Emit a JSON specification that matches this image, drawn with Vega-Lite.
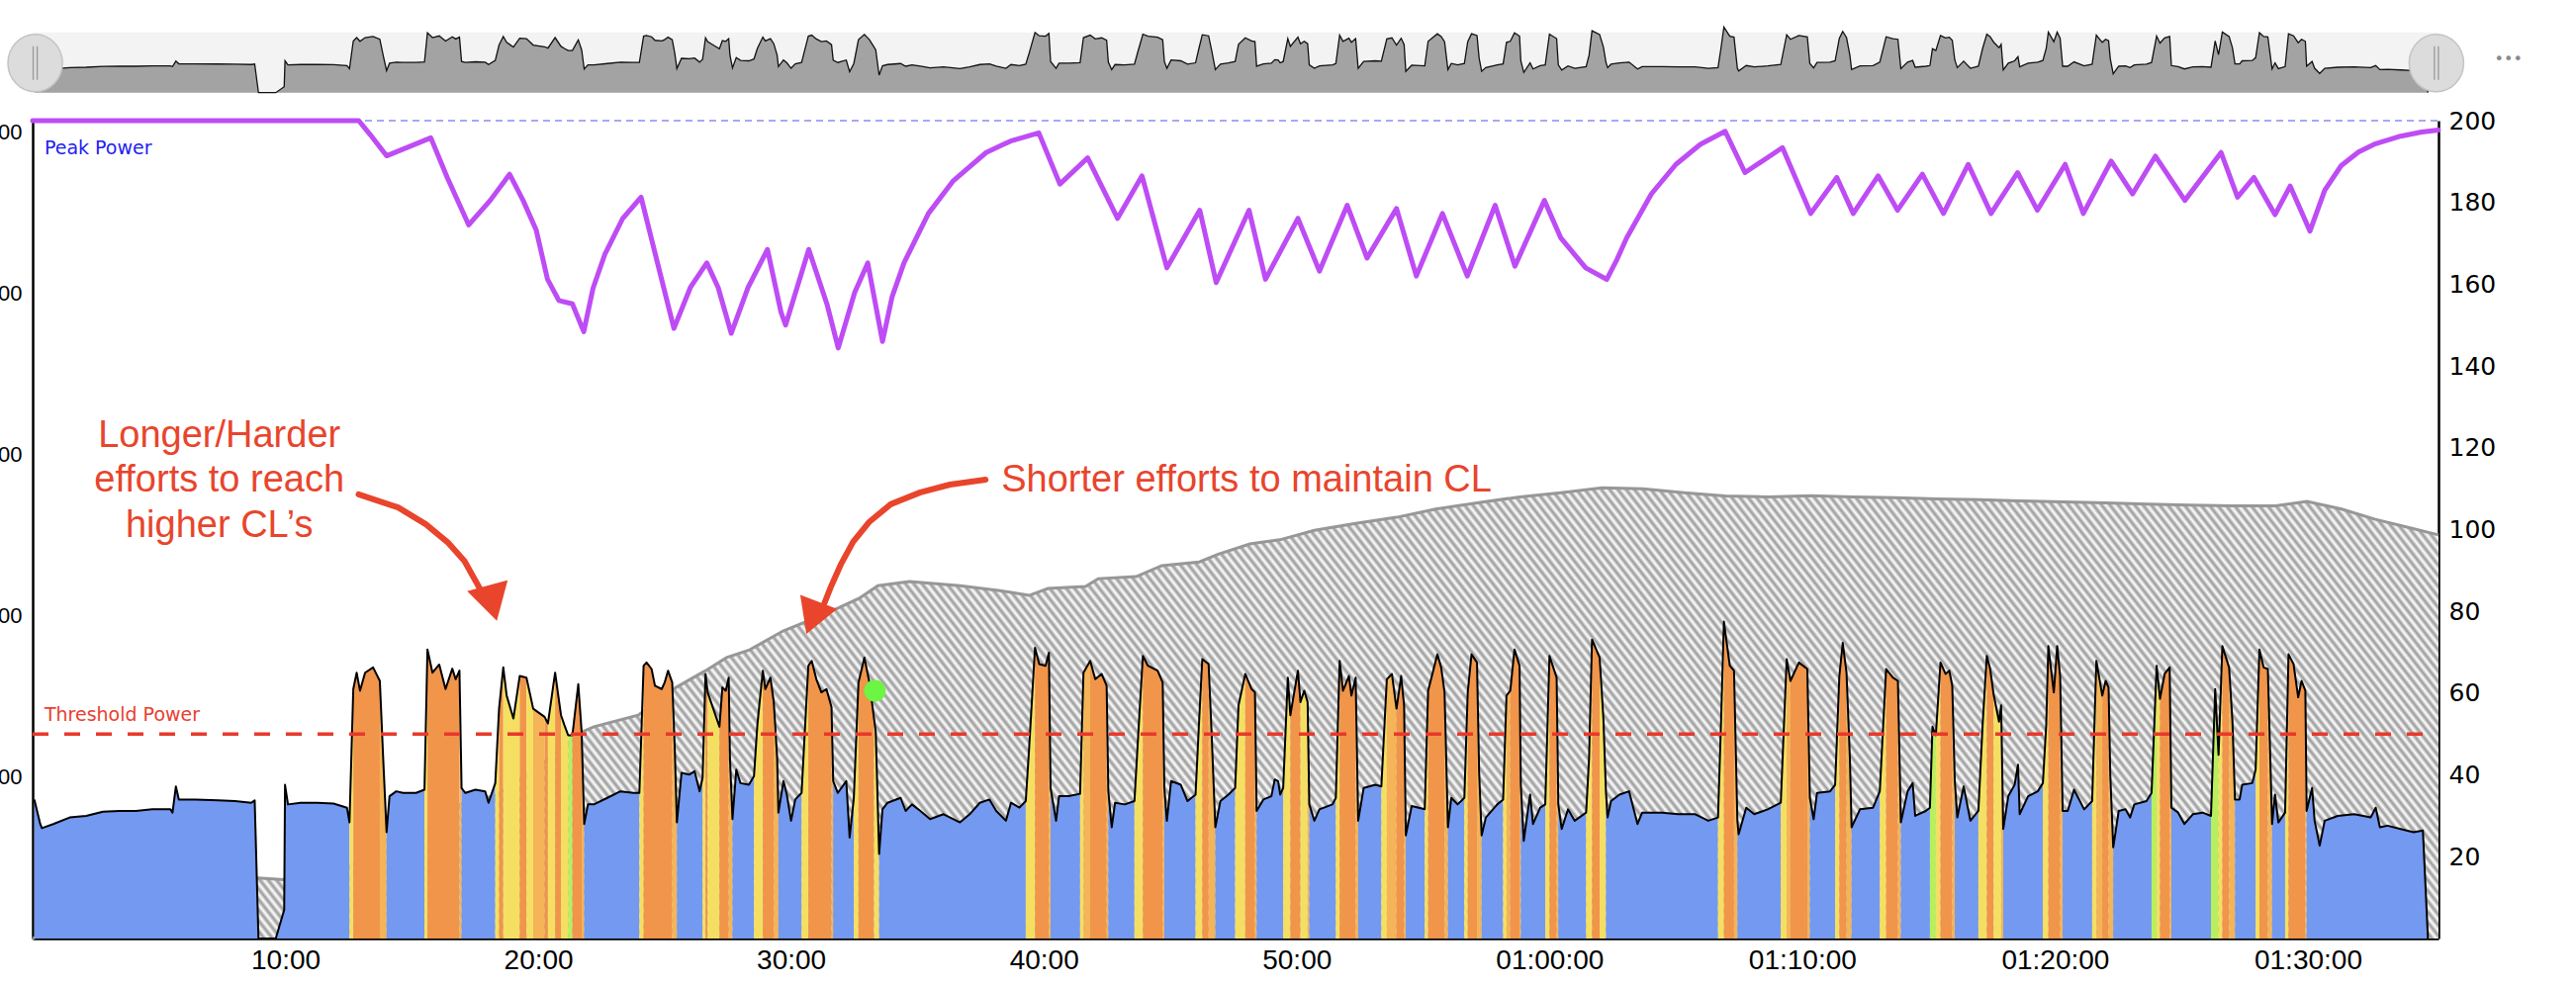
{
"$schema":"https://vega.github.io/schema/vega-lite/v6.json",
"width":2432,"height":827,
"autosize":{"type":"none"},
"padding":{"left":33,"top":122,"right":139,"bottom":47},
"background":"white",
"config":{"view":{"stroke":null}},
"datasets":{
"pw":[
{"t":4,"v":34,"s":0,"c":"b"},{"t":18,"v":28,"s":0,"c":"b"},{"t":22,"v":27,"s":0,"c":"b"},{"t":49,"v":28,"s":0,"c":"b"},{"t":88,"v":29.6,"s":0,"c":"b"},{"t":127,"v":30,"s":0,"c":"b"},{"t":167,"v":31,"s":0,"c":"b"},{"t":206,"v":31.2,"s":0,"c":"b"},{"t":245,"v":31.2,"s":0,"c":"b"},{"t":284,"v":31.6,"s":0,"c":"b"},{"t":327,"v":31.6,"s":0,"c":"b"},{"t":332,"v":30.8,"s":0,"c":"b"},{"t":340,"v":37.2,"s":0,"c":"b"},{"t":347,"v":34,"s":0,"c":"b"},{"t":386,"v":34,"s":0,"c":"b"},{"t":440,"v":33.8,"s":0,"c":"b"},{"t":480,"v":33.6,"s":0,"c":"b"},{"t":519,"v":33.2,"s":0,"c":"b"},{"t":527,"v":33.8,"s":0,"c":"b"},{"t":536,"v":0,"s":0,"c":"b"},{"t":577,"v":0,"s":0,"c":"b"},{"t":597,"v":7,"s":0,"c":"b"},{"t":599,"v":37.6,"s":0,"c":"b"},{"t":606,"v":32.8,"s":0,"c":"b"},{"t":636,"v":33.2,"s":0,"c":"b"},{"t":675,"v":33.2,"s":0,"c":"b"},{"t":714,"v":33,"s":0,"c":"b"},{"t":746,"v":32,"s":0,"c":"b"},{"t":752,"v":28.4,"s":0,"c":"b"},
{"t":752,"v":28.4,"s":1,"c":"y"},{"t":761,"v":61,"s":1,"c":"y"},
{"t":761,"v":61,"s":2,"c":"o"},{"t":769,"v":65,"s":2,"c":"o"},{"t":777,"v":60.6,"s":2,"c":"o"},{"t":789,"v":65,"s":2,"c":"o"},{"t":808,"v":66.3,"s":2,"c":"o"},{"t":824,"v":63,"s":2,"c":"o"},
{"t":824,"v":63,"s":3,"c":"lo"},{"t":832,"v":44,"s":3,"c":"lo"},{"t":840,"v":26,"s":3,"c":"lo"},
{"t":840,"v":26,"s":4,"c":"b"},{"t":847,"v":34.8,"s":4,"c":"b"},{"t":863,"v":36,"s":4,"c":"b"},{"t":879,"v":35.6,"s":4,"c":"b"},{"t":910,"v":35.6,"s":4,"c":"b"},{"t":930,"v":36.4,"s":4,"c":"b"},
{"t":930,"v":36.4,"s":5,"c":"y"},{"t":937,"v":70.7,"s":5,"c":"y"},
{"t":937,"v":70.7,"s":6,"c":"o"},{"t":949,"v":65,"s":6,"c":"o"},{"t":965,"v":67,"s":6,"c":"o"},{"t":980,"v":61,"s":6,"c":"o"},{"t":996,"v":66,"s":6,"c":"o"},{"t":1004,"v":63.4,"s":6,"c":"o"},{"t":1013,"v":65.5,"s":6,"c":"o"},
{"t":1013,"v":65.5,"s":7,"c":"lo"},{"t":1018,"v":36.8,"s":7,"c":"lo"},
{"t":1018,"v":36.8,"s":8,"c":"b"},{"t":1027,"v":35.6,"s":8,"c":"b"},{"t":1051,"v":36.4,"s":8,"c":"b"},{"t":1074,"v":36,"s":8,"c":"b"},{"t":1082,"v":33.2,"s":8,"c":"b"},{"t":1098,"v":38,"s":8,"c":"b"},
{"t":1098,"v":38,"s":9,"c":"y"},{"t":1107,"v":56.2,"s":9,"c":"y"},
{"t":1107,"v":56.2,"s":10,"c":"o"},{"t":1117,"v":66.3,"s":10,"c":"o"},
{"t":1117,"v":66.3,"s":11,"c":"y"},{"t":1125,"v":59.4,"s":11,"c":"y"},{"t":1141,"v":53.8,"s":11,"c":"y"},{"t":1156,"v":64.2,"s":11,"c":"y"},
{"t":1156,"v":64.2,"s":12,"c":"o"},{"t":1172,"v":63.8,"s":12,"c":"o"},
{"t":1172,"v":63.8,"s":13,"c":"y"},{"t":1188,"v":56.2,"s":13,"c":"y"},
{"t":1188,"v":56.2,"s":14,"c":"lo"},{"t":1215,"v":54.2,"s":14,"c":"lo"},
{"t":1215,"v":54.2,"s":15,"c":"o"},{"t":1223,"v":52.6,"s":15,"c":"o"},
{"t":1223,"v":52.6,"s":16,"c":"y"},{"t":1240,"v":65,"s":16,"c":"y"},
{"t":1240,"v":65,"s":17,"c":"o"},{"t":1254,"v":54.6,"s":17,"c":"o"},
{"t":1254,"v":54.6,"s":18,"c":"y"},{"t":1262,"v":52.2,"s":18,"c":"y"},{"t":1271,"v":49.7,"s":18,"c":"y"},
{"t":1271,"v":49.7,"s":19,"c":"g"},{"t":1281,"v":49.7,"s":19,"c":"g"},
{"t":1281,"v":49.7,"s":20,"c":"o"},{"t":1295,"v":62.2,"s":20,"c":"o"},{"t":1303,"v":50.5,"s":20,"c":"o"},
{"t":1303,"v":50.5,"s":21,"c":"lo"},{"t":1309,"v":28,"s":21,"c":"lo"},
{"t":1309,"v":28,"s":22,"c":"b"},{"t":1318,"v":32.8,"s":22,"c":"b"},{"t":1332,"v":32.8,"s":22,"c":"b"},{"t":1364,"v":34.4,"s":22,"c":"b"},{"t":1395,"v":36,"s":22,"c":"b"},{"t":1426,"v":35.6,"s":22,"c":"b"},{"t":1440,"v":35.6,"s":22,"c":"b"},
{"t":1440,"v":35.6,"s":23,"c":"y"},{"t":1450,"v":66.7,"s":23,"c":"y"},
{"t":1450,"v":66.7,"s":24,"c":"o"},{"t":1457,"v":67.5,"s":24,"c":"o"},{"t":1469,"v":65.9,"s":24,"c":"o"},{"t":1477,"v":61.8,"s":24,"c":"o"},{"t":1493,"v":61,"s":24,"c":"o"},{"t":1500,"v":62.6,"s":24,"c":"o"},{"t":1508,"v":65.5,"s":24,"c":"o"},{"t":1518,"v":62.6,"s":24,"c":"o"},
{"t":1518,"v":62.6,"s":25,"c":"lo"},{"t":1524,"v":46.5,"s":25,"c":"lo"},{"t":1529,"v":28.4,"s":25,"c":"lo"},
{"t":1529,"v":28.4,"s":26,"c":"b"},{"t":1540,"v":40.5,"s":26,"c":"b"},{"t":1559,"v":40.1,"s":26,"c":"b"},{"t":1571,"v":40.9,"s":26,"c":"b"},{"t":1583,"v":36,"s":26,"c":"b"},{"t":1590,"v":39.3,"s":26,"c":"b"},
{"t":1590,"v":39.3,"s":27,"c":"y"},{"t":1597,"v":64.7,"s":27,"c":"y"},
{"t":1597,"v":64.7,"s":28,"c":"o"},{"t":1602,"v":60.2,"s":28,"c":"o"},
{"t":1602,"v":60.2,"s":29,"c":"y"},{"t":1618,"v":55.4,"s":29,"c":"y"},{"t":1630,"v":51.8,"s":29,"c":"y"},
{"t":1630,"v":51.8,"s":30,"c":"o"},{"t":1637,"v":61.4,"s":30,"c":"o"},{"t":1645,"v":60.6,"s":30,"c":"o"},{"t":1652,"v":63.8,"s":30,"c":"o"},
{"t":1652,"v":63.8,"s":31,"c":"lo"},{"t":1655,"v":44.1,"s":31,"c":"lo"},{"t":1661,"v":29.2,"s":31,"c":"lo"},
{"t":1661,"v":29.2,"s":32,"c":"b"},{"t":1670,"v":41.3,"s":32,"c":"b"},{"t":1680,"v":38,"s":32,"c":"b"},{"t":1700,"v":37.6,"s":32,"c":"b"},{"t":1712,"v":39.7,"s":32,"c":"b"},
{"t":1712,"v":39.7,"s":33,"c":"y"},{"t":1720,"v":52.2,"s":33,"c":"y"},{"t":1733,"v":65.5,"s":33,"c":"y"},
{"t":1733,"v":65.5,"s":34,"c":"o"},{"t":1739,"v":61,"s":34,"c":"o"},{"t":1751,"v":63.8,"s":34,"c":"o"},{"t":1759,"v":57.8,"s":34,"c":"o"},
{"t":1759,"v":57.8,"s":35,"c":"lo"},{"t":1767,"v":44.1,"s":35,"c":"lo"},{"t":1770,"v":30.8,"s":35,"c":"lo"},
{"t":1770,"v":30.8,"s":36,"c":"b"},{"t":1782,"v":38.5,"s":36,"c":"b"},{"t":1790,"v":35.2,"s":36,"c":"b"},{"t":1800,"v":28.8,"s":36,"c":"b"},{"t":1810,"v":34,"s":36,"c":"b"},{"t":1825,"v":35.6,"s":36,"c":"b"},
{"t":1825,"v":35.6,"s":37,"c":"y"},{"t":1837,"v":59,"s":37,"c":"y"},{"t":1841,"v":66.7,"s":37,"c":"y"},
{"t":1841,"v":66.7,"s":38,"c":"o"},{"t":1849,"v":67.9,"s":38,"c":"o"},{"t":1860,"v":63.4,"s":38,"c":"o"},{"t":1872,"v":60.2,"s":38,"c":"o"},{"t":1884,"v":61,"s":38,"c":"o"},{"t":1896,"v":56.6,"s":38,"c":"o"},
{"t":1896,"v":56.6,"s":39,"c":"lo"},{"t":1900,"v":38.5,"s":39,"c":"lo"},
{"t":1900,"v":38.5,"s":40,"c":"b"},{"t":1911,"v":35.6,"s":40,"c":"b"},{"t":1931,"v":38.5,"s":40,"c":"b"},{"t":1939,"v":24.7,"s":40,"c":"b"},{"t":1949,"v":34.4,"s":40,"c":"b"},
{"t":1949,"v":34.4,"s":41,"c":"y"},{"t":1960,"v":62.6,"s":41,"c":"y"},
{"t":1960,"v":62.6,"s":42,"c":"o"},{"t":1974,"v":68.7,"s":42,"c":"o"},{"t":1986,"v":62.6,"s":42,"c":"o"},{"t":1997,"v":53.8,"s":42,"c":"o"},
{"t":1997,"v":53.8,"s":43,"c":"y"},{"t":2001,"v":50.5,"s":43,"c":"y"},{"t":2009,"v":20.7,"s":43,"c":"y"},
{"t":2009,"v":20.7,"s":44,"c":"b"},{"t":2017,"v":31.6,"s":44,"c":"b"},{"t":2029,"v":33.2,"s":44,"c":"b"},{"t":2060,"v":34.4,"s":44,"c":"b"},{"t":2072,"v":31.2,"s":44,"c":"b"},{"t":2087,"v":32.8,"s":44,"c":"b"},{"t":2107,"v":31.2,"s":44,"c":"b"},{"t":2130,"v":29.2,"s":44,"c":"b"},{"t":2162,"v":30.4,"s":44,"c":"b"},{"t":2201,"v":28.4,"s":44,"c":"b"},{"t":2224,"v":30.4,"s":44,"c":"b"},{"t":2248,"v":33.2,"s":44,"c":"b"},{"t":2271,"v":34,"s":44,"c":"b"},{"t":2287,"v":31.2,"s":44,"c":"b"},{"t":2310,"v":28.8,"s":44,"c":"b"},{"t":2322,"v":33.2,"s":44,"c":"b"},{"t":2342,"v":32,"s":44,"c":"b"},{"t":2357,"v":33.6,"s":44,"c":"b"},
{"t":2357,"v":33.6,"s":45,"c":"y"},{"t":2365,"v":46.5,"s":45,"c":"y"},{"t":2379,"v":71.1,"s":45,"c":"y"},
{"t":2379,"v":71.1,"s":46,"c":"o"},{"t":2389,"v":67.1,"s":46,"c":"o"},{"t":2404,"v":66.7,"s":46,"c":"o"},{"t":2412,"v":69.9,"s":46,"c":"o"},
{"t":2412,"v":69.9,"s":47,"c":"lo"},{"t":2416,"v":36.8,"s":47,"c":"lo"},
{"t":2416,"v":36.8,"s":48,"c":"b"},{"t":2429,"v":28.8,"s":48,"c":"b"},{"t":2436,"v":34.8,"s":48,"c":"b"},{"t":2459,"v":34.8,"s":48,"c":"b"},{"t":2486,"v":35.4,"s":48,"c":"b"},
{"t":2486,"v":35.4,"s":49,"c":"y"},{"t":2494,"v":65,"s":49,"c":"y"},
{"t":2494,"v":65,"s":50,"c":"lo"},{"t":2510,"v":67.9,"s":50,"c":"lo"},
{"t":2510,"v":67.9,"s":51,"c":"o"},{"t":2522,"v":63.4,"s":51,"c":"o"},{"t":2537,"v":64.7,"s":51,"c":"o"},{"t":2549,"v":61.8,"s":51,"c":"o"},
{"t":2549,"v":61.8,"s":52,"c":"lo"},{"t":2553,"v":36,"s":52,"c":"lo"},
{"t":2553,"v":36,"s":53,"c":"b"},{"t":2561,"v":27.2,"s":53,"c":"b"},{"t":2569,"v":33.2,"s":53,"c":"b"},{"t":2592,"v":32.8,"s":53,"c":"b"},{"t":2615,"v":33.6,"s":53,"c":"b"},
{"t":2615,"v":33.6,"s":54,"c":"y"},{"t":2623,"v":48.1,"s":54,"c":"y"},{"t":2635,"v":69.1,"s":54,"c":"y"},
{"t":2635,"v":69.1,"s":55,"c":"o"},{"t":2647,"v":66.7,"s":55,"c":"o"},{"t":2670,"v":65.5,"s":55,"c":"o"},{"t":2682,"v":62.6,"s":55,"c":"o"},
{"t":2682,"v":62.6,"s":56,"c":"lo"},{"t":2686,"v":36.8,"s":56,"c":"lo"},
{"t":2686,"v":36.8,"s":57,"c":"b"},{"t":2692,"v":28.8,"s":57,"c":"b"},{"t":2702,"v":38.5,"s":57,"c":"b"},{"t":2725,"v":37.6,"s":57,"c":"b"},{"t":2741,"v":33.6,"s":57,"c":"b"},{"t":2760,"v":35.2,"s":57,"c":"b"},
{"t":2760,"v":35.2,"s":58,"c":"y"},{"t":2768,"v":52.2,"s":58,"c":"y"},{"t":2776,"v":68.3,"s":58,"c":"y"},
{"t":2776,"v":68.3,"s":59,"c":"o"},{"t":2791,"v":67.1,"s":59,"c":"o"},
{"t":2791,"v":67.1,"s":60,"c":"lo"},{"t":2798,"v":50.5,"s":60,"c":"lo"},{"t":2807,"v":27.2,"s":60,"c":"lo"},
{"t":2807,"v":27.2,"s":61,"c":"b"},{"t":2819,"v":33.6,"s":61,"c":"b"},{"t":2838,"v":35.2,"s":61,"c":"b"},{"t":2854,"v":36.8,"s":61,"c":"b"},
{"t":2854,"v":36.8,"s":62,"c":"y"},{"t":2862,"v":57,"s":62,"c":"y"},{"t":2878,"v":64.7,"s":62,"c":"y"},
{"t":2878,"v":64.7,"s":63,"c":"o"},{"t":2893,"v":61,"s":63,"c":"o"},{"t":2901,"v":60.2,"s":63,"c":"o"},
{"t":2901,"v":60.2,"s":64,"c":"lo"},{"t":2905,"v":31.2,"s":64,"c":"lo"},
{"t":2905,"v":31.2,"s":65,"c":"b"},{"t":2921,"v":34,"s":65,"c":"b"},{"t":2940,"v":34.8,"s":65,"c":"b"},{"t":2948,"v":38.9,"s":65,"c":"b"},{"t":2956,"v":38.5,"s":65,"c":"b"},{"t":2961,"v":35.2,"s":65,"c":"b"},{"t":2968,"v":36.8,"s":65,"c":"b"},
{"t":2968,"v":36.8,"s":66,"c":"y"},{"t":2979,"v":63.8,"s":66,"c":"y"},{"t":2985,"v":54.6,"s":66,"c":"y"},
{"t":2985,"v":54.6,"s":67,"c":"o"},{"t":3003,"v":65.5,"s":67,"c":"o"},{"t":3009,"v":57.8,"s":67,"c":"o"},
{"t":3009,"v":57.8,"s":68,"c":"y"},{"t":3018,"v":60.6,"s":68,"c":"y"},{"t":3026,"v":57.8,"s":68,"c":"y"},
{"t":3026,"v":57.8,"s":69,"c":"lo"},{"t":3030,"v":32.8,"s":69,"c":"lo"},
{"t":3030,"v":32.8,"s":70,"c":"b"},{"t":3042,"v":28.8,"s":70,"c":"b"},{"t":3054,"v":31.6,"s":70,"c":"b"},{"t":3085,"v":32.8,"s":70,"c":"b"},{"t":3093,"v":34.4,"s":70,"c":"b"},
{"t":3093,"v":34.4,"s":71,"c":"y"},{"t":3102,"v":67.9,"s":71,"c":"y"},
{"t":3102,"v":67.9,"s":72,"c":"o"},{"t":3110,"v":60.6,"s":72,"c":"o"},{"t":3124,"v":64.2,"s":72,"c":"o"},{"t":3130,"v":59.4,"s":72,"c":"o"},{"t":3140,"v":63.8,"s":72,"c":"o"},
{"t":3140,"v":63.8,"s":73,"c":"lo"},{"t":3146,"v":28.8,"s":73,"c":"lo"},
{"t":3146,"v":28.8,"s":74,"c":"b"},{"t":3159,"v":36.8,"s":74,"c":"b"},{"t":3187,"v":37.6,"s":74,"c":"b"},{"t":3201,"v":37.2,"s":74,"c":"b"},
{"t":3201,"v":37.2,"s":75,"c":"y"},{"t":3214,"v":63.4,"s":75,"c":"y"},
{"t":3214,"v":63.4,"s":76,"c":"lo"},{"t":3226,"v":64.7,"s":76,"c":"lo"},{"t":3237,"v":56.2,"s":76,"c":"lo"},
{"t":3237,"v":56.2,"s":77,"c":"o"},{"t":3248,"v":64.2,"s":77,"c":"o"},{"t":3255,"v":57,"s":77,"c":"o"},
{"t":3255,"v":57,"s":78,"c":"lo"},{"t":3259,"v":25.2,"s":78,"c":"lo"},
{"t":3259,"v":25.2,"s":79,"c":"b"},{"t":3273,"v":32.4,"s":79,"c":"b"},{"t":3304,"v":31.6,"s":79,"c":"b"},
{"t":3304,"v":31.6,"s":80,"c":"y"},{"t":3312,"v":60.6,"s":80,"c":"y"},
{"t":3312,"v":60.6,"s":81,"c":"o"},{"t":3334,"v":69.5,"s":81,"c":"o"},{"t":3343,"v":66.3,"s":81,"c":"o"},{"t":3351,"v":60.2,"s":81,"c":"o"},
{"t":3351,"v":60.2,"s":82,"c":"lo"},{"t":3359,"v":27.2,"s":82,"c":"lo"},
{"t":3359,"v":27.2,"s":83,"c":"b"},{"t":3367,"v":34.4,"s":83,"c":"b"},{"t":3382,"v":32.8,"s":83,"c":"b"},{"t":3398,"v":34.4,"s":83,"c":"b"},
{"t":3398,"v":34.4,"s":84,"c":"y"},{"t":3406,"v":60.2,"s":84,"c":"y"},
{"t":3406,"v":60.2,"s":85,"c":"o"},{"t":3415,"v":69.5,"s":85,"c":"o"},{"t":3428,"v":67.5,"s":85,"c":"o"},
{"t":3428,"v":67.5,"s":86,"c":"lo"},{"t":3433,"v":40.9,"s":86,"c":"lo"},{"t":3439,"v":25.2,"s":86,"c":"lo"},
{"t":3439,"v":25.2,"s":87,"c":"b"},{"t":3449,"v":29.6,"s":87,"c":"b"},{"t":3476,"v":32.8,"s":87,"c":"b"},{"t":3490,"v":34,"s":87,"c":"b"},
{"t":3490,"v":34,"s":88,"c":"y"},{"t":3498,"v":59.4,"s":88,"c":"y"},
{"t":3498,"v":59.4,"s":89,"c":"lo"},{"t":3507,"v":60.6,"s":89,"c":"lo"},
{"t":3507,"v":60.6,"s":90,"c":"o"},{"t":3517,"v":70.7,"s":90,"c":"o"},{"t":3529,"v":66.7,"s":90,"c":"o"},
{"t":3529,"v":66.7,"s":91,"c":"lo"},{"t":3532,"v":37.6,"s":91,"c":"lo"},
{"t":3532,"v":37.6,"s":92,"c":"b"},{"t":3539,"v":23.9,"s":92,"c":"b"},{"t":3554,"v":35.2,"s":92,"c":"b"},{"t":3561,"v":28,"s":92,"c":"b"},{"t":3578,"v":32,"s":92,"c":"b"},{"t":3590,"v":32.8,"s":92,"c":"b"},
{"t":3590,"v":32.8,"s":93,"c":"y"},{"t":3600,"v":69.1,"s":93,"c":"y"},
{"t":3600,"v":69.1,"s":94,"c":"o"},{"t":3617,"v":63.8,"s":94,"c":"o"},
{"t":3617,"v":63.8,"s":95,"c":"lo"},{"t":3621,"v":32.8,"s":95,"c":"lo"},
{"t":3621,"v":32.8,"s":96,"c":"b"},{"t":3629,"v":26.8,"s":96,"c":"b"},{"t":3644,"v":31.6,"s":96,"c":"b"},{"t":3660,"v":28.8,"s":96,"c":"b"},{"t":3687,"v":30.8,"s":96,"c":"b"},
{"t":3687,"v":30.8,"s":97,"c":"y"},{"t":3694,"v":44.1,"s":97,"c":"y"},{"t":3701,"v":73.1,"s":97,"c":"y"},
{"t":3701,"v":73.1,"s":98,"c":"o"},{"t":3719,"v":68.7,"s":98,"c":"o"},
{"t":3719,"v":68.7,"s":99,"c":"y"},{"t":3728,"v":53.8,"s":99,"c":"y"},{"t":3734,"v":36,"s":99,"c":"y"},
{"t":3734,"v":36,"s":100,"c":"b"},{"t":3738,"v":29.6,"s":100,"c":"b"},{"t":3746,"v":33.6,"s":100,"c":"b"},{"t":3766,"v":35.2,"s":100,"c":"b"},{"t":3789,"v":36,"s":100,"c":"b"},{"t":3809,"v":28,"s":100,"c":"b"},{"t":3820,"v":30.8,"s":100,"c":"b"},{"t":3867,"v":30.8,"s":100,"c":"b"},{"t":3906,"v":30.4,"s":100,"c":"b"},{"t":3946,"v":30.4,"s":100,"c":"b"},{"t":3977,"v":28.8,"s":100,"c":"b"},{"t":4000,"v":29.6,"s":100,"c":"b"},
{"t":4000,"v":29.6,"s":101,"c":"y"},{"t":4007,"v":52.2,"s":101,"c":"y"},{"t":4014,"v":77.5,"s":101,"c":"y"},
{"t":4014,"v":77.5,"s":102,"c":"o"},{"t":4028,"v":66.7,"s":102,"c":"o"},{"t":4038,"v":65.5,"s":102,"c":"o"},
{"t":4038,"v":65.5,"s":103,"c":"lo"},{"t":4046,"v":28.8,"s":103,"c":"lo"},
{"t":4046,"v":28.8,"s":104,"c":"b"},{"t":4049,"v":25.5,"s":104,"c":"b"},{"t":4067,"v":32,"s":104,"c":"b"},{"t":4086,"v":30.4,"s":104,"c":"b"},{"t":4118,"v":31.6,"s":104,"c":"b"},{"t":4149,"v":33.2,"s":104,"c":"b"},
{"t":4149,"v":33.2,"s":105,"c":"y"},{"t":4163,"v":68.3,"s":105,"c":"y"},
{"t":4163,"v":68.3,"s":106,"c":"lo"},{"t":4172,"v":63,"s":106,"c":"lo"},
{"t":4172,"v":63,"s":107,"c":"o"},{"t":4192,"v":67.5,"s":107,"c":"o"},{"t":4212,"v":65.9,"s":107,"c":"o"},
{"t":4212,"v":65.9,"s":108,"c":"lo"},{"t":4218,"v":34.4,"s":108,"c":"lo"},
{"t":4218,"v":34.4,"s":109,"c":"b"},{"t":4227,"v":29.2,"s":109,"c":"b"},{"t":4235,"v":35.6,"s":109,"c":"b"},{"t":4266,"v":36,"s":109,"c":"b"},{"t":4278,"v":37.6,"s":109,"c":"b"},
{"t":4278,"v":37.6,"s":110,"c":"y"},{"t":4288,"v":64.2,"s":110,"c":"y"},
{"t":4288,"v":64.2,"s":111,"c":"o"},{"t":4296,"v":72.3,"s":111,"c":"o"},{"t":4305,"v":65,"s":111,"c":"o"},
{"t":4305,"v":65,"s":112,"c":"lo"},{"t":4313,"v":44.1,"s":112,"c":"lo"},{"t":4317,"v":27.2,"s":112,"c":"lo"},
{"t":4317,"v":27.2,"s":113,"c":"b"},{"t":4337,"v":31.6,"s":113,"c":"b"},{"t":4368,"v":32,"s":113,"c":"b"},{"t":4384,"v":36,"s":113,"c":"b"},
{"t":4384,"v":36,"s":114,"c":"y"},{"t":4399,"v":65.9,"s":114,"c":"y"},
{"t":4399,"v":65.9,"s":115,"c":"o"},{"t":4415,"v":63.8,"s":115,"c":"o"},{"t":4427,"v":63,"s":115,"c":"o"},
{"t":4427,"v":63,"s":116,"c":"lo"},{"t":4434,"v":28.4,"s":116,"c":"lo"},
{"t":4434,"v":28.4,"s":117,"c":"b"},{"t":4450,"v":36,"s":117,"c":"b"},{"t":4462,"v":38,"s":117,"c":"b"},{"t":4468,"v":30,"s":117,"c":"b"},{"t":4493,"v":31.2,"s":117,"c":"b"},{"t":4503,"v":32,"s":117,"c":"b"},
{"t":4503,"v":32,"s":118,"c":"g"},{"t":4509,"v":51.8,"s":118,"c":"g"},{"t":4517,"v":49.7,"s":118,"c":"g"},
{"t":4517,"v":49.7,"s":119,"c":"y"},{"t":4528,"v":67.5,"s":119,"c":"y"},
{"t":4528,"v":67.5,"s":120,"c":"o"},{"t":4540,"v":64.7,"s":120,"c":"o"},{"t":4549,"v":65.5,"s":120,"c":"o"},{"t":4556,"v":61.8,"s":120,"c":"o"},
{"t":4556,"v":61.8,"s":121,"c":"lo"},{"t":4562,"v":38.5,"s":121,"c":"lo"},
{"t":4562,"v":38.5,"s":122,"c":"b"},{"t":4568,"v":29.6,"s":122,"c":"b"},{"t":4583,"v":37.2,"s":122,"c":"b"},{"t":4599,"v":28.8,"s":122,"c":"b"},{"t":4618,"v":31.2,"s":122,"c":"b"},
{"t":4618,"v":31.2,"s":123,"c":"y"},{"t":4628,"v":52.2,"s":123,"c":"y"},{"t":4638,"v":69.1,"s":123,"c":"y"},
{"t":4638,"v":69.1,"s":124,"c":"o"},{"t":4646,"v":65.9,"s":124,"c":"o"},{"t":4654,"v":59.8,"s":124,"c":"o"},
{"t":4654,"v":59.8,"s":125,"c":"y"},{"t":4667,"v":53,"s":125,"c":"y"},{"t":4672,"v":57,"s":125,"c":"y"},
{"t":4672,"v":57,"s":126,"c":"lo"},{"t":4677,"v":26.8,"s":126,"c":"lo"},
{"t":4677,"v":26.8,"s":127,"c":"b"},{"t":4689,"v":34.8,"s":127,"c":"b"},{"t":4704,"v":37.6,"s":127,"c":"b"},{"t":4712,"v":42.5,"s":127,"c":"b"},{"t":4716,"v":30.4,"s":127,"c":"b"},{"t":4736,"v":34.8,"s":127,"c":"b"},{"t":4759,"v":36,"s":127,"c":"b"},{"t":4771,"v":38,"s":127,"c":"b"},
{"t":4771,"v":38,"s":128,"c":"y"},{"t":4779,"v":52.2,"s":128,"c":"y"},{"t":4784,"v":71.5,"s":128,"c":"y"},
{"t":4784,"v":71.5,"s":129,"c":"o"},{"t":4797,"v":60.2,"s":129,"c":"o"},{"t":4805,"v":71.5,"s":129,"c":"o"},{"t":4812,"v":64.2,"s":129,"c":"o"},
{"t":4812,"v":64.2,"s":130,"c":"lo"},{"t":4818,"v":31.2,"s":130,"c":"lo"},
{"t":4818,"v":31.2,"s":131,"c":"b"},{"t":4830,"v":31.2,"s":131,"c":"b"},{"t":4845,"v":36.4,"s":131,"c":"b"},{"t":4869,"v":31.6,"s":131,"c":"b"},{"t":4888,"v":33.6,"s":131,"c":"b"},
{"t":4888,"v":33.6,"s":132,"c":"y"},{"t":4898,"v":67.9,"s":132,"c":"y"},
{"t":4898,"v":67.9,"s":133,"c":"lo"},{"t":4912,"v":59.4,"s":133,"c":"lo"},
{"t":4912,"v":59.4,"s":134,"c":"o"},{"t":4920,"v":63,"s":134,"c":"o"},{"t":4927,"v":61.4,"s":134,"c":"o"},
{"t":4927,"v":61.4,"s":135,"c":"lo"},{"t":4931,"v":40.1,"s":135,"c":"lo"},{"t":4938,"v":22.3,"s":135,"c":"lo"},
{"t":4938,"v":22.3,"s":136,"c":"b"},{"t":4951,"v":31.2,"s":136,"c":"b"},{"t":4967,"v":31.6,"s":136,"c":"b"},{"t":4978,"v":29.6,"s":136,"c":"b"},{"t":4988,"v":32.8,"s":136,"c":"b"},{"t":5017,"v":33.6,"s":136,"c":"b"},{"t":5029,"v":35.6,"s":136,"c":"b"},
{"t":5029,"v":35.6,"s":137,"c":"g"},{"t":5041,"v":66.7,"s":137,"c":"g"},
{"t":5041,"v":66.7,"s":138,"c":"y"},{"t":5049,"v":58.6,"s":138,"c":"y"},
{"t":5049,"v":58.6,"s":139,"c":"o"},{"t":5060,"v":64.7,"s":139,"c":"o"},{"t":5072,"v":66.3,"s":139,"c":"o"},
{"t":5072,"v":66.3,"s":140,"c":"lo"},{"t":5076,"v":32,"s":140,"c":"lo"},
{"t":5076,"v":32,"s":141,"c":"b"},{"t":5092,"v":30.8,"s":141,"c":"b"},{"t":5107,"v":28,"s":141,"c":"b"},{"t":5127,"v":30.4,"s":141,"c":"b"},{"t":5150,"v":30.8,"s":141,"c":"b"},{"t":5170,"v":30,"s":141,"c":"b"},
{"t":5170,"v":30,"s":142,"c":"g"},{"t":5180,"v":61,"s":142,"c":"g"},{"t":5188,"v":44.9,"s":142,"c":"g"},
{"t":5188,"v":44.9,"s":143,"c":"y"},{"t":5197,"v":71.5,"s":143,"c":"y"},
{"t":5197,"v":71.5,"s":144,"c":"o"},{"t":5213,"v":66.3,"s":144,"c":"o"},
{"t":5213,"v":66.3,"s":145,"c":"lo"},{"t":5221,"v":53,"s":145,"c":"lo"},{"t":5227,"v":34,"s":145,"c":"lo"},
{"t":5227,"v":34,"s":146,"c":"b"},{"t":5238,"v":34,"s":146,"c":"b"},{"t":5244,"v":37.6,"s":146,"c":"b"},{"t":5268,"v":38,"s":146,"c":"b"},{"t":5276,"v":41.3,"s":146,"c":"b"},
{"t":5276,"v":41.3,"s":147,"c":"y"},{"t":5285,"v":70.7,"s":147,"c":"y"},
{"t":5285,"v":70.7,"s":148,"c":"o"},{"t":5295,"v":66.3,"s":148,"c":"o"},{"t":5305,"v":65.9,"s":148,"c":"o"},
{"t":5305,"v":65.9,"s":149,"c":"lo"},{"t":5315,"v":28,"s":149,"c":"lo"},
{"t":5315,"v":28,"s":150,"c":"b"},{"t":5322,"v":35.2,"s":150,"c":"b"},{"t":5330,"v":28.4,"s":150,"c":"b"},{"t":5346,"v":30.8,"s":150,"c":"b"},
{"t":5346,"v":30.8,"s":151,"c":"y"},{"t":5354,"v":69.5,"s":151,"c":"y"},
{"t":5354,"v":69.5,"s":152,"c":"o"},{"t":5366,"v":67.1,"s":152,"c":"o"},{"t":5377,"v":59,"s":152,"c":"o"},{"t":5385,"v":63,"s":152,"c":"o"},{"t":5394,"v":60.6,"s":152,"c":"o"},
{"t":5394,"v":60.6,"s":153,"c":"lo"},{"t":5397,"v":31.2,"s":153,"c":"lo"},
{"t":5397,"v":31.2,"s":154,"c":"b"},{"t":5410,"v":36.8,"s":154,"c":"b"},{"t":5416,"v":28.8,"s":154,"c":"b"},{"t":5428,"v":22.7,"s":154,"c":"b"},{"t":5440,"v":28.8,"s":154,"c":"b"},{"t":5471,"v":30,"s":154,"c":"b"},{"t":5510,"v":30.4,"s":154,"c":"b"},{"t":5549,"v":29.6,"s":154,"c":"b"},{"t":5561,"v":32,"s":154,"c":"b"},{"t":5571,"v":27.2,"s":154,"c":"b"},{"t":5589,"v":27.6,"s":154,"c":"b"},{"t":5620,"v":26.8,"s":154,"c":"b"},{"t":5651,"v":26,"s":154,"c":"b"},{"t":5673,"v":26.4,"s":154,"c":"b"},{"t":5685,"v":0,"s":154,"c":"b"}
],
"cl":[
{"t":0,"v":0},{"t":60,"v":3},{"t":150,"v":7},{"t":300,"v":10.5},{"t":450,"v":13.5},{"t":534,"v":14.8},{"t":597,"v":14.4},{"t":700,"v":15.5},{"t":760,"v":18},{"t":840,"v":24},{"t":930,"v":26},{"t":1018,"v":33},{"t":1100,"v":35},{"t":1200,"v":42},{"t":1303,"v":50.5},{"t":1332,"v":51.8},{"t":1437,"v":54.6},{"t":1527,"v":61.4},{"t":1597,"v":65.5},{"t":1647,"v":68.7},{"t":1700,"v":70.5},{"t":1781,"v":75.2},{"t":1886,"v":79.6},{"t":1962,"v":83.2},{"t":2006,"v":86.3},{"t":2081,"v":87.3},{"t":2201,"v":86.3},{"t":2300,"v":85},{"t":2365,"v":83.9},{"t":2410,"v":85.6},{"t":2499,"v":86.1},{"t":2529,"v":88},{"t":2619,"v":88.5},{"t":2680,"v":91.2},{"t":2769,"v":92.1},{"t":2814,"v":94},{"t":2889,"v":96.5},{"t":2960,"v":97.5},{"t":3042,"v":99.8},{"t":3140,"v":101.5},{"t":3237,"v":103},{"t":3330,"v":105},{"t":3432,"v":106.6},{"t":3530,"v":108},{"t":3627,"v":109},{"t":3725,"v":110.2},{"t":3822,"v":110},{"t":3920,"v":109},{"t":4017,"v":108.2},{"t":4120,"v":108},{"t":4220,"v":108.3},{"t":4320,"v":108},{"t":4420,"v":107.8},{"t":4520,"v":107.5},{"t":4620,"v":107.3},{"t":4720,"v":107},{"t":4820,"v":106.8},{"t":4920,"v":106.5},{"t":5020,"v":106.2},{"t":5120,"v":106},{"t":5220,"v":105.8},{"t":5323,"v":105.8},{"t":5398,"v":106.9},{"t":5480,"v":105},{"t":5560,"v":102.5},{"t":5640,"v":100.5},{"t":5710,"v":98.7}
],
"pk":[
{"t":0,"v":200},{"t":774,"v":200},{"t":801,"v":196.6},{"t":840,"v":191.4},{"t":945,"v":195.8},{"t":984,"v":186.1},{"t":1035,"v":174.5},{"t":1086,"v":180.5},{"t":1132,"v":186.9},{"t":1164,"v":180.5},{"t":1195,"v":173.3},{"t":1222,"v":161.2},{"t":1249,"v":156},{"t":1281,"v":155.2},{"t":1308,"v":148.4},{"t":1330,"v":159},{"t":1358,"v":167.3},{"t":1400,"v":176},{"t":1444,"v":181.3},{"t":1483,"v":165.2},{"t":1522,"v":149.2},{"t":1561,"v":159.2},{"t":1600,"v":165.2},{"t":1627,"v":159.2},{"t":1658,"v":148},{"t":1698,"v":159.2},{"t":1744,"v":168.5},{"t":1776,"v":153.2},{"t":1787,"v":150},{"t":1842,"v":168.5},{"t":1885,"v":155.2},{"t":1912,"v":144.4},{"t":1951,"v":158},{"t":1982,"v":165.2},{"t":2017,"v":146},{"t":2040,"v":157},{"t":2068,"v":165.2},{"t":2126,"v":177.3},{"t":2185,"v":185.3},{"t":2263,"v":192.2},{"t":2321,"v":195},{"t":2388,"v":197},{"t":2438,"v":184.5},{"t":2504,"v":190.9},{"t":2575,"v":176.1},{"t":2633,"v":186.5},{"t":2692,"v":164},{"t":2770,"v":178.1},{"t":2809,"v":160.4},{"t":2887,"v":178.1},{"t":2926,"v":161.2},{"t":3003,"v":176.1},{"t":3054,"v":163.2},{"t":3120,"v":179.3},{"t":3167,"v":166.4},{"t":3237,"v":178.5},{"t":3284,"v":162},{"t":3346,"v":177.3},{"t":3405,"v":162},{"t":3471,"v":179.3},{"t":3518,"v":164.4},{"t":3588,"v":180.5},{"t":3627,"v":171.3},{"t":3686,"v":164},{"t":3736,"v":161.2},{"t":3760,"v":166},{"t":3783,"v":171.3},{"t":3842,"v":182.1},{"t":3900,"v":189.3},{"t":3958,"v":194.2},{"t":4017,"v":197.4},{"t":4064,"v":187.3},{"t":4153,"v":193.4},{"t":4220,"v":177.3},{"t":4282,"v":186.1},{"t":4321,"v":177.3},{"t":4380,"v":186.5},{"t":4426,"v":178.1},{"t":4485,"v":186.9},{"t":4535,"v":177.3},{"t":4594,"v":189.3},{"t":4648,"v":177.3},{"t":4711,"v":187.3},{"t":4758,"v":178.1},{"t":4824,"v":189.3},{"t":4867,"v":177.3},{"t":4933,"v":190.1},{"t":4984,"v":182.1},{"t":5038,"v":191.3},{"t":5108,"v":180.5},{"t":5194,"v":192.2},{"t":5233,"v":181.3},{"t":5272,"v":186.1},{"t":5322,"v":177},{"t":5358,"v":184},{"t":5405,"v":173},{"t":5440,"v":183},{"t":5479,"v":189},{"t":5520,"v":192.3},{"t":5557,"v":194.2},{"t":5620,"v":196.2},{"t":5670,"v":197.2},{"t":5710,"v":197.7}
],
"arr":[
{"a":1,"i":0,"t":773.6,"v":108.6},{"a":1,"i":1,"t":867.5,"v":105.4},{"a":1,"i":2,"t":933.3,"v":101.3},{"a":1,"i":3,"t":985,"v":96.9},{"a":1,"i":4,"t":1024.8,"v":92.3},{"a":1,"i":5,"t":1055.3,"v":86.7},{"a":1,"i":6,"t":1074,"v":83.2},
{"a":2,"i":0,"t":2261.7,"v":112.2},{"a":2,"i":1,"t":2177.3,"v":111},{"a":2,"i":2,"t":2106.9,"v":109.1},{"a":2,"i":3,"t":2036.5,"v":106.2},{"a":2,"i":4,"t":1984.9,"v":101.8},{"a":2,"i":5,"t":1947.3,"v":97},{"a":2,"i":6,"t":1919.2,"v":91.7},{"a":2,"i":7,"t":1895.7,"v":86.3},{"a":2,"i":8,"t":1879.2,"v":82}
],
"band":[{"t":0,"t2":5710,"v":0,"v2":71.2}],
"hdl":[{"t":6,"v":35},{"t":5705,"v":35}]
},
"encoding":{"x":{"field":"t","type":"quantitative","title":null,"scale":{"domain":[0,5710],"nice":false,"zero":false},
"axis":{"values":[600,1200,1800,2400,3000,3600,4200,4800,5400],"labelExpr":"datum.value < 3600 ? utcFormat(datum.value*1000,'%M:%S') : utcFormat(datum.value*1000,'%H:%M:%S')","ticks":false,"tickSize":0,"grid":false,"domainColor":"#000000","domainWidth":2.5,"labelFont":"Liberation Sans","labelFontSize":28,"labelColor":"#000000","labelPadding":8,"labelOverlap":false,"labelFlush":false}}},
"layer":[
{"encoding":{"y":{"field":"v","type":"quantitative","title":null,"scale":{"domain":[-998,-33],"nice":false,"zero":false},"axis":null}},
 "layer":[
  {"data":{"name":"band"},"mark":{"type":"rect","fill":"#f3f3f3","opacity":1},"encoding":{"x2":{"field":"t2"},"y2":{"field":"v2"}}},
  {"data":{"name":"pw"},"mark":{"type":"area","fill":"#a3a3a3","opacity":1,"line":{"color":"#111111","strokeWidth":1.3}},"encoding":{"y2":{"datum":0}}},
  {"data":{"name":"hdl"},"mark":{"type":"point","shape":"M0,-1A0.95,1,0,1,1,0,1A0.95,1,0,1,1,0,-1Z","filled":true,"fill":"#dcdcdc","stroke":"#c4c4c4","strokeWidth":1.5,"size":3364,"opacity":1}},
  {"data":{"name":"hdl"},"mark":{"type":"point","shape":"M-0.12,-1L-0.12,1M0.12,-1L0.12,1","filled":false,"color":"#9a9a9a","strokeWidth":1.3,"size":1156,"opacity":1}},
  {"data":{"values":[{"t":5876,"v":39.7,"txt":"•••"}]},"mark":{"type":"text","color":"#8a8a8a","fontSize":16,"font":"DejaVu Sans","baseline":"middle","align":"center"},"encoding":{"text":{"field":"txt"}}}
 ]},
{"data":{"values":[{"t":0,"w":0}]},"mark":{"type":"point","opacity":0},
 "encoding":{"y":{"field":"w","type":"quantitative","title":null,"scale":{"domain":[0,507],"nice":false},"axis":{"orient":"left","values":[100,200,300,400,500],"ticks":false,"tickSize":0,"grid":false,"domainColor":"#000000","domainWidth":2.5,"labelFont":"Liberation Sans","labelFontSize":22,"labelColor":"#000000","labelPadding":11}}}},
{"encoding":{"y":{"field":"v","type":"quantitative","title":null,"stack":null,"scale":{"domain":[0,200],"nice":false},"axis":{"orient":"right","values":[20,40,60,80,100,120,140,160,180,200],"ticks":false,"tickSize":0,"grid":false,"domainColor":"#000000","domainWidth":2.5,"labelFont":"DejaVu Sans","labelFontSize":25,"labelColor":"#000000","labelPadding":10}}},
 "layer":[
  {"data":{"name":"cl"},"mark":{"type":"area","opacity":1,"fill":{"gradient":"linear","x1":0,"y1":1,"x2":1.12234,"y2":0.83569,"stops":[
{"offset":0,"color":"#999"},{"offset":0.0015,"color":"#fff"},{"offset":0.003,"color":"#999"},{"offset":0.0045,"color":"#fff"},{"offset":0.006,"color":"#999"},{"offset":0.0075,"color":"#fff"},{"offset":0.009,"color":"#999"},{"offset":0.0105,"color":"#fff"},{"offset":0.012,"color":"#999"},{"offset":0.0135,"color":"#fff"},
{"offset":0.015,"color":"#999"},{"offset":0.0165,"color":"#fff"},{"offset":0.018,"color":"#999"},{"offset":0.0195,"color":"#fff"},{"offset":0.021,"color":"#999"},{"offset":0.0225,"color":"#fff"},{"offset":0.024,"color":"#999"},{"offset":0.0255,"color":"#fff"},{"offset":0.027,"color":"#999"},{"offset":0.0285,"color":"#fff"},
{"offset":0.03,"color":"#999"},{"offset":0.0315,"color":"#fff"},{"offset":0.033,"color":"#999"},{"offset":0.0345,"color":"#fff"},{"offset":0.036,"color":"#999"},{"offset":0.0375,"color":"#fff"},{"offset":0.039,"color":"#999"},{"offset":0.0405,"color":"#fff"},{"offset":0.042,"color":"#999"},{"offset":0.0435,"color":"#fff"},
{"offset":0.045,"color":"#999"},{"offset":0.0465,"color":"#fff"},{"offset":0.048,"color":"#999"},{"offset":0.0495,"color":"#fff"},{"offset":0.051,"color":"#999"},{"offset":0.0525,"color":"#fff"},{"offset":0.054,"color":"#999"},{"offset":0.0555,"color":"#fff"},{"offset":0.057,"color":"#999"},{"offset":0.0585,"color":"#fff"},
{"offset":0.06,"color":"#999"},{"offset":0.0615,"color":"#fff"},{"offset":0.063,"color":"#999"},{"offset":0.0645,"color":"#fff"},{"offset":0.066,"color":"#999"},{"offset":0.0675,"color":"#fff"},{"offset":0.069,"color":"#999"},{"offset":0.0705,"color":"#fff"},{"offset":0.072,"color":"#999"},{"offset":0.0735,"color":"#fff"},
{"offset":0.075,"color":"#999"},{"offset":0.0765,"color":"#fff"},{"offset":0.078,"color":"#999"},{"offset":0.0795,"color":"#fff"},{"offset":0.081,"color":"#999"},{"offset":0.0825,"color":"#fff"},{"offset":0.084,"color":"#999"},{"offset":0.0855,"color":"#fff"},{"offset":0.087,"color":"#999"},{"offset":0.0885,"color":"#fff"},
{"offset":0.09,"color":"#999"},{"offset":0.0915,"color":"#fff"},{"offset":0.093,"color":"#999"},{"offset":0.0945,"color":"#fff"},{"offset":0.096,"color":"#999"},{"offset":0.0975,"color":"#fff"},{"offset":0.099,"color":"#999"},{"offset":0.1005,"color":"#fff"},{"offset":0.102,"color":"#999"},{"offset":0.1035,"color":"#fff"},
{"offset":0.105,"color":"#999"},{"offset":0.1065,"color":"#fff"},{"offset":0.108,"color":"#999"},{"offset":0.1095,"color":"#fff"},{"offset":0.111,"color":"#999"},{"offset":0.1125,"color":"#fff"},{"offset":0.114,"color":"#999"},{"offset":0.1155,"color":"#fff"},{"offset":0.117,"color":"#999"},{"offset":0.1185,"color":"#fff"},
{"offset":0.12,"color":"#999"},{"offset":0.1215,"color":"#fff"},{"offset":0.123,"color":"#999"},{"offset":0.1245,"color":"#fff"},{"offset":0.126,"color":"#999"},{"offset":0.1275,"color":"#fff"},{"offset":0.129,"color":"#999"},{"offset":0.1305,"color":"#fff"},{"offset":0.132,"color":"#999"},{"offset":0.1335,"color":"#fff"},
{"offset":0.135,"color":"#999"},{"offset":0.1365,"color":"#fff"},{"offset":0.138,"color":"#999"},{"offset":0.1395,"color":"#fff"},{"offset":0.141,"color":"#999"},{"offset":0.1425,"color":"#fff"},{"offset":0.144,"color":"#999"},{"offset":0.1455,"color":"#fff"},{"offset":0.147,"color":"#999"},{"offset":0.1485,"color":"#fff"},
{"offset":0.15,"color":"#999"},{"offset":0.1515,"color":"#fff"},{"offset":0.153,"color":"#999"},{"offset":0.1545,"color":"#fff"},{"offset":0.156,"color":"#999"},{"offset":0.1575,"color":"#fff"},{"offset":0.159,"color":"#999"},{"offset":0.1605,"color":"#fff"},{"offset":0.162,"color":"#999"},{"offset":0.1635,"color":"#fff"},
{"offset":0.165,"color":"#999"},{"offset":0.1665,"color":"#fff"},{"offset":0.168,"color":"#999"},{"offset":0.1695,"color":"#fff"},{"offset":0.171,"color":"#999"},{"offset":0.1725,"color":"#fff"},{"offset":0.174,"color":"#999"},{"offset":0.1755,"color":"#fff"},{"offset":0.177,"color":"#999"},{"offset":0.1785,"color":"#fff"},
{"offset":0.18,"color":"#999"},{"offset":0.1815,"color":"#fff"},{"offset":0.183,"color":"#999"},{"offset":0.1845,"color":"#fff"},{"offset":0.186,"color":"#999"},{"offset":0.1875,"color":"#fff"},{"offset":0.189,"color":"#999"},{"offset":0.1905,"color":"#fff"},{"offset":0.192,"color":"#999"},{"offset":0.1935,"color":"#fff"},
{"offset":0.195,"color":"#999"},{"offset":0.1965,"color":"#fff"},{"offset":0.198,"color":"#999"},{"offset":0.1995,"color":"#fff"},{"offset":0.201,"color":"#999"},{"offset":0.2025,"color":"#fff"},{"offset":0.204,"color":"#999"},{"offset":0.2055,"color":"#fff"},{"offset":0.207,"color":"#999"},{"offset":0.2085,"color":"#fff"},
{"offset":0.21,"color":"#999"},{"offset":0.2115,"color":"#fff"},{"offset":0.213,"color":"#999"},{"offset":0.2145,"color":"#fff"},{"offset":0.216,"color":"#999"},{"offset":0.2175,"color":"#fff"},{"offset":0.219,"color":"#999"},{"offset":0.2205,"color":"#fff"},{"offset":0.222,"color":"#999"},{"offset":0.2235,"color":"#fff"},
{"offset":0.225,"color":"#999"},{"offset":0.2265,"color":"#fff"},{"offset":0.228,"color":"#999"},{"offset":0.2295,"color":"#fff"},{"offset":0.231,"color":"#999"},{"offset":0.2325,"color":"#fff"},{"offset":0.234,"color":"#999"},{"offset":0.2355,"color":"#fff"},{"offset":0.237,"color":"#999"},{"offset":0.2385,"color":"#fff"},
{"offset":0.24,"color":"#999"},{"offset":0.2415,"color":"#fff"},{"offset":0.243,"color":"#999"},{"offset":0.2445,"color":"#fff"},{"offset":0.246,"color":"#999"},{"offset":0.2475,"color":"#fff"},{"offset":0.249,"color":"#999"},{"offset":0.2505,"color":"#fff"},{"offset":0.252,"color":"#999"},{"offset":0.2535,"color":"#fff"},
{"offset":0.255,"color":"#999"},{"offset":0.2565,"color":"#fff"},{"offset":0.258,"color":"#999"},{"offset":0.2595,"color":"#fff"},{"offset":0.261,"color":"#999"},{"offset":0.2625,"color":"#fff"},{"offset":0.264,"color":"#999"},{"offset":0.2655,"color":"#fff"},{"offset":0.267,"color":"#999"},{"offset":0.2685,"color":"#fff"},
{"offset":0.27,"color":"#999"},{"offset":0.2715,"color":"#fff"},{"offset":0.273,"color":"#999"},{"offset":0.2745,"color":"#fff"},{"offset":0.276,"color":"#999"},{"offset":0.2775,"color":"#fff"},{"offset":0.279,"color":"#999"},{"offset":0.2805,"color":"#fff"},{"offset":0.282,"color":"#999"},{"offset":0.2835,"color":"#fff"},
{"offset":0.285,"color":"#999"},{"offset":0.2865,"color":"#fff"},{"offset":0.288,"color":"#999"},{"offset":0.2895,"color":"#fff"},{"offset":0.291,"color":"#999"},{"offset":0.2925,"color":"#fff"},{"offset":0.294,"color":"#999"},{"offset":0.2955,"color":"#fff"},{"offset":0.297,"color":"#999"},{"offset":0.2985,"color":"#fff"},
{"offset":0.3,"color":"#999"},{"offset":0.3015,"color":"#fff"},{"offset":0.303,"color":"#999"},{"offset":0.3045,"color":"#fff"},{"offset":0.306,"color":"#999"},{"offset":0.3075,"color":"#fff"},{"offset":0.309,"color":"#999"},{"offset":0.3105,"color":"#fff"},{"offset":0.312,"color":"#999"},{"offset":0.3135,"color":"#fff"},
{"offset":0.315,"color":"#999"},{"offset":0.3165,"color":"#fff"},{"offset":0.318,"color":"#999"},{"offset":0.3195,"color":"#fff"},{"offset":0.321,"color":"#999"},{"offset":0.3225,"color":"#fff"},{"offset":0.324,"color":"#999"},{"offset":0.3255,"color":"#fff"},{"offset":0.327,"color":"#999"},{"offset":0.3285,"color":"#fff"},
{"offset":0.33,"color":"#999"},{"offset":0.3315,"color":"#fff"},{"offset":0.333,"color":"#999"},{"offset":0.3345,"color":"#fff"},{"offset":0.336,"color":"#999"},{"offset":0.3375,"color":"#fff"},{"offset":0.339,"color":"#999"},{"offset":0.3405,"color":"#fff"},{"offset":0.342,"color":"#999"},{"offset":0.3435,"color":"#fff"},
{"offset":0.345,"color":"#999"},{"offset":0.3465,"color":"#fff"},{"offset":0.348,"color":"#999"},{"offset":0.3495,"color":"#fff"},{"offset":0.351,"color":"#999"},{"offset":0.3525,"color":"#fff"},{"offset":0.354,"color":"#999"},{"offset":0.3555,"color":"#fff"},{"offset":0.357,"color":"#999"},{"offset":0.3585,"color":"#fff"},
{"offset":0.36,"color":"#999"},{"offset":0.3615,"color":"#fff"},{"offset":0.363,"color":"#999"},{"offset":0.3645,"color":"#fff"},{"offset":0.366,"color":"#999"},{"offset":0.3675,"color":"#fff"},{"offset":0.369,"color":"#999"},{"offset":0.3705,"color":"#fff"},{"offset":0.372,"color":"#999"},{"offset":0.3735,"color":"#fff"},
{"offset":0.375,"color":"#999"},{"offset":0.3765,"color":"#fff"},{"offset":0.378,"color":"#999"},{"offset":0.3795,"color":"#fff"},{"offset":0.381,"color":"#999"},{"offset":0.3825,"color":"#fff"},{"offset":0.384,"color":"#999"},{"offset":0.3855,"color":"#fff"},{"offset":0.387,"color":"#999"},{"offset":0.3885,"color":"#fff"},
{"offset":0.39,"color":"#999"},{"offset":0.3915,"color":"#fff"},{"offset":0.393,"color":"#999"},{"offset":0.3945,"color":"#fff"},{"offset":0.396,"color":"#999"},{"offset":0.3975,"color":"#fff"},{"offset":0.399,"color":"#999"},{"offset":0.4005,"color":"#fff"},{"offset":0.402,"color":"#999"},{"offset":0.4035,"color":"#fff"},
{"offset":0.405,"color":"#999"},{"offset":0.4065,"color":"#fff"},{"offset":0.408,"color":"#999"},{"offset":0.4095,"color":"#fff"},{"offset":0.411,"color":"#999"},{"offset":0.4125,"color":"#fff"},{"offset":0.414,"color":"#999"},{"offset":0.4155,"color":"#fff"},{"offset":0.417,"color":"#999"},{"offset":0.4185,"color":"#fff"},
{"offset":0.42,"color":"#999"},{"offset":0.4215,"color":"#fff"},{"offset":0.423,"color":"#999"},{"offset":0.4245,"color":"#fff"},{"offset":0.426,"color":"#999"},{"offset":0.4275,"color":"#fff"},{"offset":0.429,"color":"#999"},{"offset":0.4305,"color":"#fff"},{"offset":0.432,"color":"#999"},{"offset":0.4335,"color":"#fff"},
{"offset":0.435,"color":"#999"},{"offset":0.4365,"color":"#fff"},{"offset":0.438,"color":"#999"},{"offset":0.4395,"color":"#fff"},{"offset":0.441,"color":"#999"},{"offset":0.4425,"color":"#fff"},{"offset":0.444,"color":"#999"},{"offset":0.4455,"color":"#fff"},{"offset":0.447,"color":"#999"},{"offset":0.4485,"color":"#fff"},
{"offset":0.45,"color":"#999"},{"offset":0.4515,"color":"#fff"},{"offset":0.453,"color":"#999"},{"offset":0.4545,"color":"#fff"},{"offset":0.456,"color":"#999"},{"offset":0.4575,"color":"#fff"},{"offset":0.459,"color":"#999"},{"offset":0.4605,"color":"#fff"},{"offset":0.462,"color":"#999"},{"offset":0.4635,"color":"#fff"},
{"offset":0.465,"color":"#999"},{"offset":0.4665,"color":"#fff"},{"offset":0.468,"color":"#999"},{"offset":0.4695,"color":"#fff"},{"offset":0.471,"color":"#999"},{"offset":0.4725,"color":"#fff"},{"offset":0.474,"color":"#999"},{"offset":0.4755,"color":"#fff"},{"offset":0.477,"color":"#999"},{"offset":0.4785,"color":"#fff"},
{"offset":0.48,"color":"#999"},{"offset":0.4815,"color":"#fff"},{"offset":0.483,"color":"#999"},{"offset":0.4845,"color":"#fff"},{"offset":0.486,"color":"#999"},{"offset":0.4875,"color":"#fff"},{"offset":0.489,"color":"#999"},{"offset":0.4905,"color":"#fff"},{"offset":0.492,"color":"#999"},{"offset":0.4935,"color":"#fff"},
{"offset":0.495,"color":"#999"},{"offset":0.4965,"color":"#fff"},{"offset":0.498,"color":"#999"},{"offset":0.4995,"color":"#fff"},{"offset":0.501,"color":"#999"},{"offset":0.5025,"color":"#fff"},{"offset":0.504,"color":"#999"},{"offset":0.5055,"color":"#fff"},{"offset":0.507,"color":"#999"},{"offset":0.5085,"color":"#fff"},
{"offset":0.51,"color":"#999"},{"offset":0.5115,"color":"#fff"},{"offset":0.513,"color":"#999"},{"offset":0.5145,"color":"#fff"},{"offset":0.516,"color":"#999"},{"offset":0.5175,"color":"#fff"},{"offset":0.519,"color":"#999"},{"offset":0.5205,"color":"#fff"},{"offset":0.522,"color":"#999"},{"offset":0.5235,"color":"#fff"},
{"offset":0.525,"color":"#999"},{"offset":0.5265,"color":"#fff"},{"offset":0.528,"color":"#999"},{"offset":0.5295,"color":"#fff"},{"offset":0.531,"color":"#999"},{"offset":0.5325,"color":"#fff"},{"offset":0.534,"color":"#999"},{"offset":0.5355,"color":"#fff"},{"offset":0.537,"color":"#999"},{"offset":0.5385,"color":"#fff"},
{"offset":0.54,"color":"#999"},{"offset":0.5415,"color":"#fff"},{"offset":0.543,"color":"#999"},{"offset":0.5445,"color":"#fff"},{"offset":0.546,"color":"#999"},{"offset":0.5475,"color":"#fff"},{"offset":0.549,"color":"#999"},{"offset":0.5505,"color":"#fff"},{"offset":0.552,"color":"#999"},{"offset":0.5535,"color":"#fff"},
{"offset":0.555,"color":"#999"},{"offset":0.5565,"color":"#fff"},{"offset":0.558,"color":"#999"},{"offset":0.5595,"color":"#fff"},{"offset":0.561,"color":"#999"},{"offset":0.5625,"color":"#fff"},{"offset":0.564,"color":"#999"},{"offset":0.5655,"color":"#fff"},{"offset":0.567,"color":"#999"},{"offset":0.5685,"color":"#fff"},
{"offset":0.57,"color":"#999"},{"offset":0.5715,"color":"#fff"},{"offset":0.573,"color":"#999"},{"offset":0.5745,"color":"#fff"},{"offset":0.576,"color":"#999"},{"offset":0.5775,"color":"#fff"},{"offset":0.579,"color":"#999"},{"offset":0.5805,"color":"#fff"},{"offset":0.582,"color":"#999"},{"offset":0.5835,"color":"#fff"},
{"offset":0.585,"color":"#999"},{"offset":0.5865,"color":"#fff"},{"offset":0.588,"color":"#999"},{"offset":0.5895,"color":"#fff"},{"offset":0.591,"color":"#999"},{"offset":0.5925,"color":"#fff"},{"offset":0.594,"color":"#999"},{"offset":0.5955,"color":"#fff"},{"offset":0.597,"color":"#999"},{"offset":0.5985,"color":"#fff"},
{"offset":0.6,"color":"#999"},{"offset":0.6015,"color":"#fff"},{"offset":0.603,"color":"#999"},{"offset":0.6045,"color":"#fff"},{"offset":0.606,"color":"#999"},{"offset":0.6075,"color":"#fff"},{"offset":0.609,"color":"#999"},{"offset":0.6105,"color":"#fff"},{"offset":0.612,"color":"#999"},{"offset":0.6135,"color":"#fff"},
{"offset":0.615,"color":"#999"},{"offset":0.6165,"color":"#fff"},{"offset":0.618,"color":"#999"},{"offset":0.6195,"color":"#fff"},{"offset":0.621,"color":"#999"},{"offset":0.6225,"color":"#fff"},{"offset":0.624,"color":"#999"},{"offset":0.6255,"color":"#fff"},{"offset":0.627,"color":"#999"},{"offset":0.6285,"color":"#fff"},
{"offset":0.63,"color":"#999"},{"offset":0.6315,"color":"#fff"},{"offset":0.633,"color":"#999"},{"offset":0.6345,"color":"#fff"},{"offset":0.636,"color":"#999"},{"offset":0.6375,"color":"#fff"},{"offset":0.639,"color":"#999"},{"offset":0.6405,"color":"#fff"},{"offset":0.642,"color":"#999"},{"offset":0.6435,"color":"#fff"},
{"offset":0.645,"color":"#999"},{"offset":0.6465,"color":"#fff"},{"offset":0.648,"color":"#999"},{"offset":0.6495,"color":"#fff"},{"offset":0.651,"color":"#999"},{"offset":0.6525,"color":"#fff"},{"offset":0.654,"color":"#999"},{"offset":0.6555,"color":"#fff"},{"offset":0.657,"color":"#999"},{"offset":0.6585,"color":"#fff"},
{"offset":0.66,"color":"#999"},{"offset":0.6615,"color":"#fff"},{"offset":0.663,"color":"#999"},{"offset":0.6645,"color":"#fff"},{"offset":0.666,"color":"#999"},{"offset":0.6675,"color":"#fff"},{"offset":0.669,"color":"#999"},{"offset":0.6705,"color":"#fff"},{"offset":0.672,"color":"#999"},{"offset":0.6735,"color":"#fff"},
{"offset":0.675,"color":"#999"},{"offset":0.6765,"color":"#fff"},{"offset":0.678,"color":"#999"},{"offset":0.6795,"color":"#fff"},{"offset":0.681,"color":"#999"},{"offset":0.6825,"color":"#fff"},{"offset":0.684,"color":"#999"},{"offset":0.6855,"color":"#fff"},{"offset":0.687,"color":"#999"},{"offset":0.6885,"color":"#fff"},
{"offset":0.69,"color":"#999"},{"offset":0.6915,"color":"#fff"},{"offset":0.693,"color":"#999"},{"offset":0.6945,"color":"#fff"},{"offset":0.696,"color":"#999"},{"offset":0.6975,"color":"#fff"},{"offset":0.699,"color":"#999"},{"offset":0.7005,"color":"#fff"},{"offset":0.702,"color":"#999"},{"offset":0.7035,"color":"#fff"},
{"offset":0.705,"color":"#999"},{"offset":0.7065,"color":"#fff"},{"offset":0.708,"color":"#999"},{"offset":0.7095,"color":"#fff"},{"offset":0.711,"color":"#999"},{"offset":0.7125,"color":"#fff"},{"offset":0.714,"color":"#999"},{"offset":0.7155,"color":"#fff"},{"offset":0.717,"color":"#999"},{"offset":0.7185,"color":"#fff"},
{"offset":0.72,"color":"#999"},{"offset":0.7215,"color":"#fff"},{"offset":0.723,"color":"#999"},{"offset":0.7245,"color":"#fff"},{"offset":0.726,"color":"#999"},{"offset":0.7275,"color":"#fff"},{"offset":0.729,"color":"#999"},{"offset":0.7305,"color":"#fff"},{"offset":0.732,"color":"#999"},{"offset":0.7335,"color":"#fff"},
{"offset":0.735,"color":"#999"},{"offset":0.7365,"color":"#fff"},{"offset":0.738,"color":"#999"},{"offset":0.7395,"color":"#fff"},{"offset":0.741,"color":"#999"},{"offset":0.7425,"color":"#fff"},{"offset":0.744,"color":"#999"},{"offset":0.7455,"color":"#fff"},{"offset":0.747,"color":"#999"},{"offset":0.7485,"color":"#fff"},
{"offset":0.75,"color":"#999"},{"offset":0.7515,"color":"#fff"},{"offset":0.753,"color":"#999"},{"offset":0.7545,"color":"#fff"},{"offset":0.756,"color":"#999"},{"offset":0.7575,"color":"#fff"},{"offset":0.759,"color":"#999"},{"offset":0.7605,"color":"#fff"},{"offset":0.762,"color":"#999"},{"offset":0.7635,"color":"#fff"},
{"offset":0.765,"color":"#999"},{"offset":0.7665,"color":"#fff"},{"offset":0.768,"color":"#999"},{"offset":0.7695,"color":"#fff"},{"offset":0.771,"color":"#999"},{"offset":0.7725,"color":"#fff"},{"offset":0.774,"color":"#999"},{"offset":0.7755,"color":"#fff"},{"offset":0.777,"color":"#999"},{"offset":0.7785,"color":"#fff"},
{"offset":0.78,"color":"#999"},{"offset":0.7815,"color":"#fff"},{"offset":0.783,"color":"#999"},{"offset":0.7845,"color":"#fff"},{"offset":0.786,"color":"#999"},{"offset":0.7875,"color":"#fff"},{"offset":0.789,"color":"#999"},{"offset":0.7905,"color":"#fff"},{"offset":0.792,"color":"#999"},{"offset":0.7935,"color":"#fff"},
{"offset":0.795,"color":"#999"},{"offset":0.7965,"color":"#fff"},{"offset":0.798,"color":"#999"},{"offset":0.7995,"color":"#fff"},{"offset":0.801,"color":"#999"},{"offset":0.8025,"color":"#fff"},{"offset":0.804,"color":"#999"},{"offset":0.8055,"color":"#fff"},{"offset":0.807,"color":"#999"},{"offset":0.8085,"color":"#fff"},
{"offset":0.81,"color":"#999"},{"offset":0.8115,"color":"#fff"},{"offset":0.813,"color":"#999"},{"offset":0.8145,"color":"#fff"},{"offset":0.816,"color":"#999"},{"offset":0.8175,"color":"#fff"},{"offset":0.819,"color":"#999"},{"offset":0.8205,"color":"#fff"},{"offset":0.822,"color":"#999"},{"offset":0.8235,"color":"#fff"},
{"offset":0.825,"color":"#999"},{"offset":0.8265,"color":"#fff"},{"offset":0.828,"color":"#999"},{"offset":0.8295,"color":"#fff"},{"offset":0.831,"color":"#999"},{"offset":0.8325,"color":"#fff"},{"offset":0.834,"color":"#999"},{"offset":0.8355,"color":"#fff"},{"offset":0.837,"color":"#999"},{"offset":0.8385,"color":"#fff"},
{"offset":0.84,"color":"#999"},{"offset":0.8415,"color":"#fff"},{"offset":0.843,"color":"#999"},{"offset":0.8445,"color":"#fff"},{"offset":0.846,"color":"#999"},{"offset":0.8475,"color":"#fff"},{"offset":0.849,"color":"#999"},{"offset":0.8505,"color":"#fff"},{"offset":0.852,"color":"#999"},{"offset":0.8535,"color":"#fff"},
{"offset":0.855,"color":"#999"},{"offset":0.8565,"color":"#fff"},{"offset":0.858,"color":"#999"},{"offset":0.8595,"color":"#fff"},{"offset":0.861,"color":"#999"},{"offset":0.8625,"color":"#fff"},{"offset":0.864,"color":"#999"},{"offset":0.8655,"color":"#fff"},{"offset":0.867,"color":"#999"},{"offset":0.8685,"color":"#fff"},
{"offset":0.87,"color":"#999"},{"offset":0.8715,"color":"#fff"},{"offset":0.873,"color":"#999"},{"offset":0.8745,"color":"#fff"},{"offset":0.876,"color":"#999"},{"offset":0.8775,"color":"#fff"},{"offset":0.879,"color":"#999"},{"offset":0.8805,"color":"#fff"},{"offset":0.882,"color":"#999"},{"offset":0.8835,"color":"#fff"},
{"offset":0.885,"color":"#999"},{"offset":0.8865,"color":"#fff"},{"offset":0.888,"color":"#999"},{"offset":0.8895,"color":"#fff"},{"offset":0.891,"color":"#999"},{"offset":0.8925,"color":"#fff"},{"offset":0.894,"color":"#999"},{"offset":0.8955,"color":"#fff"},{"offset":0.897,"color":"#999"},{"offset":0.8985,"color":"#fff"},
{"offset":0.9,"color":"#999"},{"offset":0.9015,"color":"#fff"},{"offset":0.903,"color":"#999"},{"offset":0.9045,"color":"#fff"},{"offset":0.906,"color":"#999"},{"offset":0.9075,"color":"#fff"},{"offset":0.909,"color":"#999"},{"offset":0.9105,"color":"#fff"},{"offset":0.912,"color":"#999"},{"offset":0.9135,"color":"#fff"},
{"offset":0.915,"color":"#999"},{"offset":0.9165,"color":"#fff"},{"offset":0.918,"color":"#999"},{"offset":0.9195,"color":"#fff"},{"offset":0.921,"color":"#999"},{"offset":0.9225,"color":"#fff"},{"offset":0.924,"color":"#999"},{"offset":0.9255,"color":"#fff"},{"offset":0.927,"color":"#999"},{"offset":0.9285,"color":"#fff"},
{"offset":0.93,"color":"#999"},{"offset":0.9315,"color":"#fff"},{"offset":0.933,"color":"#999"},{"offset":0.9345,"color":"#fff"},{"offset":0.936,"color":"#999"},{"offset":0.9375,"color":"#fff"},{"offset":0.939,"color":"#999"},{"offset":0.9405,"color":"#fff"},{"offset":0.942,"color":"#999"},{"offset":0.9435,"color":"#fff"},
{"offset":0.945,"color":"#999"},{"offset":0.9465,"color":"#fff"},{"offset":0.948,"color":"#999"},{"offset":0.9495,"color":"#fff"},{"offset":0.951,"color":"#999"},{"offset":0.9525,"color":"#fff"},{"offset":0.954,"color":"#999"},{"offset":0.9555,"color":"#fff"},{"offset":0.957,"color":"#999"},{"offset":0.9585,"color":"#fff"},
{"offset":0.96,"color":"#999"},{"offset":0.9615,"color":"#fff"},{"offset":0.963,"color":"#999"},{"offset":0.9645,"color":"#fff"},{"offset":0.966,"color":"#999"},{"offset":0.9675,"color":"#fff"},{"offset":0.969,"color":"#999"},{"offset":0.9705,"color":"#fff"},{"offset":0.972,"color":"#999"},{"offset":0.9735,"color":"#fff"},
{"offset":0.975,"color":"#999"},{"offset":0.9765,"color":"#fff"},{"offset":0.978,"color":"#999"},{"offset":0.9795,"color":"#fff"},{"offset":0.981,"color":"#999"},{"offset":0.9825,"color":"#fff"},{"offset":0.984,"color":"#999"},{"offset":0.9855,"color":"#fff"},{"offset":0.987,"color":"#999"},{"offset":0.9885,"color":"#fff"},
{"offset":0.99,"color":"#999"},{"offset":0.9915,"color":"#fff"},{"offset":0.993,"color":"#999"},{"offset":0.9945,"color":"#fff"},{"offset":0.996,"color":"#999"},{"offset":0.9975,"color":"#fff"},{"offset":0.999,"color":"#999"}
]}}},
  {"data":{"name":"cl"},"mark":{"type":"line","color":"#979797","strokeWidth":3}},
  {"data":{"name":"pw"},"mark":{"type":"area","opacity":1},"encoding":{"color":{"field":"c","type":"nominal","legend":null,"scale":{"domain":["b","g","y","lo","o"],"range":["#7399f0","#b8ef5e","#f5df62","#f4b457","#f0954a"]}},"detail":{"field":"s","type":"nominal"}}},
  {"data":{"name":"pw"},"mark":{"type":"line","color":"#000000","strokeWidth":2,"strokeJoin":"round"}},
  {"data":{"values":[{"t":0,"v":200},{"t":5710,"v":200}]},"mark":{"type":"line","color":"#8c8cf0","strokeWidth":1.3,"strokeDash":[7,5]}},
  {"data":{"values":[{"t":0,"v":50},{"t":5710,"v":50}]},"mark":{"type":"line","color":"#e8392b","strokeWidth":3.5,"strokeDash":[16,16]}},
  {"data":{"name":"pk"},"mark":{"type":"line","color":"#be4cf5","strokeWidth":5,"strokeJoin":"round","strokeCap":"round"}},
  {"data":{"values":[{"t":28,"v":191.8,"txt":"Peak Power"}]},"mark":{"type":"text","align":"left","baseline":"alphabetic","font":"DejaVu Sans","fontSize":19,"color":"#1f1ff2"},"encoding":{"text":{"field":"txt"}}},
  {"data":{"values":[{"t":28,"v":53.1,"txt":"Threshold Power"}]},"mark":{"type":"text","align":"left","baseline":"alphabetic","font":"DejaVu Sans","fontSize":19,"color":"#e9412f"},"encoding":{"text":{"field":"txt"}}},
  {"data":{"values":[{"t":443,"v":120.2,"txt":"Longer/Harder"},{"t":443,"v":109.3,"txt":"efforts to reach"},{"t":443,"v":98.2,"txt":"higher CL’s"},{"t":2881,"v":109.4,"txt":"Shorter efforts to maintain CL"}]},"mark":{"type":"text","align":"center","baseline":"alphabetic","font":"Liberation Sans","fontSize":38,"color":"#e8452c"},"encoding":{"text":{"field":"txt"}}},
  {"data":{"name":"arr"},"mark":{"type":"line","color":"#e8452c","strokeWidth":6,"strokeCap":"round","strokeJoin":"round"},"encoding":{"detail":{"field":"a","type":"nominal"},"order":{"field":"i","type":"quantitative"}}},
  {"data":{"values":[{"t":1090.5,"v":82}]},"mark":{"type":"point","shape":"triangle-down","filled":true,"color":"#e8452c","size":1800,"angle":-15,"opacity":1}},
  {"data":{"values":[{"t":1851,"v":78.4}]},"mark":{"type":"point","shape":"triangle-down","filled":true,"color":"#e8452c","size":1600,"angle":21,"opacity":1}},
  {"data":{"values":[{"t":1999,"v":60.6}]},"mark":{"type":"point","shape":"circle","filled":true,"color":"#6cf542","size":484,"opacity":1}}
 ]}
],
"resolve":{"scale":{"y":"independent"}}
}
